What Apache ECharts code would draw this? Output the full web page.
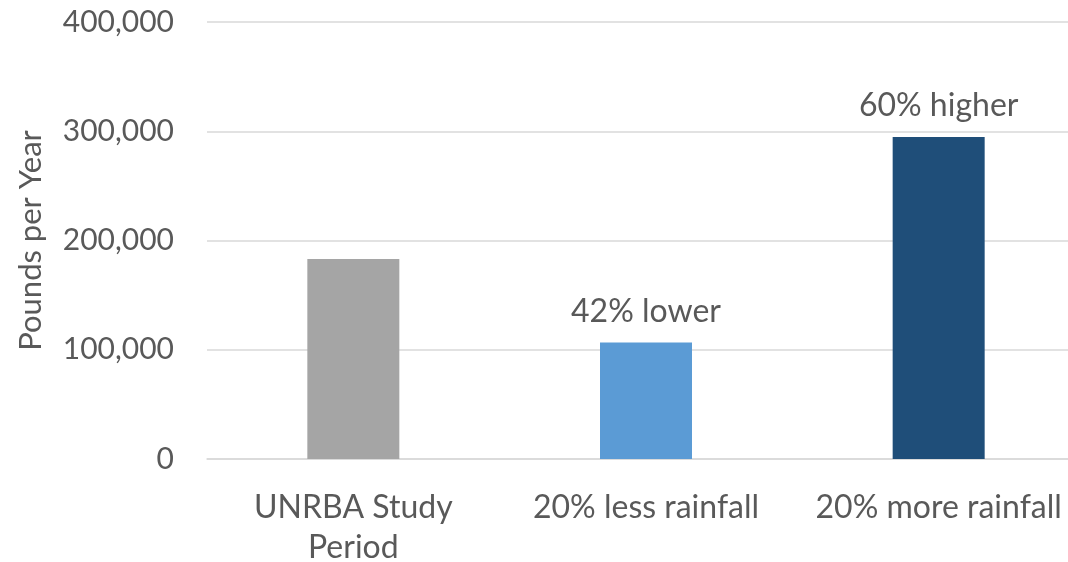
<!DOCTYPE html>
<html>
<head>
<meta charset="utf-8">
<script src="https://cdn.jsdelivr.net/npm/echarts@6/dist/echarts.min.js"></script>
<style>
html,body{margin:0;padding:0;background:#fff;}
#chart{width:1068px;height:562px;}
</style>
</head>
<body>
<div id="chart"></div>
<script>
const categories = ['UNRBA Study\nPeriod', '20% less rainfall', '20% more rainfall'];
const values = [183000, 106700, 294700];
const barLabels = ['', '42% lower', '60% higher'];
const barColors = ['#a5a5a5', '#5b9bd5', '#1f4e79'];
const yTicks = { min: 0, max: 400000, interval: 100000 };
const axisTitle = 'Pounds per Year';

const font = 'Lato, "Open Sans", sans-serif';
const textColor = '#595959';

const chart = echarts.init(document.getElementById('chart'));
chart.setOption({
  animation: false,
  grid: { left: 207, top: 22, width: 878, height: 437, containLabel: false, outerBoundsMode: 'none' },
  xAxis: {
    type: 'category',
    data: categories,
    axisLine: { show: true, lineStyle: { color: '#d9d9d9', width: 1.5 } },
    axisTick: { show: false },
    axisLabel: { color: textColor, fontFamily: font, fontSize: 32, margin: 29, lineHeight: 40, interval: 0 }
  },
  yAxis: {
    type: 'value',
    min: yTicks.min, max: yTicks.max, interval: yTicks.interval,
    name: axisTitle,
    nameLocation: 'middle',
    nameRotate: 90,
    nameGap: 161,
    nameTextStyle: { color: textColor, fontFamily: font, fontSize: 31 },
    axisLine: { show: false },
    axisTick: { show: false },
    splitLine: { lineStyle: { color: '#d9d9d9', width: 1.5 } },
    axisLabel: {
      color: textColor, fontFamily: font, fontSize: 30, margin: 33,
      formatter: v => v.toLocaleString('en-US')
    }
  },
  series: [{
    type: 'bar',
    barWidth: 92,
    data: values.map((v, i) => ({
      value: v,
      itemStyle: { color: barColors[i] },
      label: { show: barLabels[i] !== '', formatter: barLabels[i] }
    })),
    label: { position: 'top', distance: 15, color: textColor, fontFamily: font, fontSize: 32 }
  }]
});
</script>
</body>
</html>
